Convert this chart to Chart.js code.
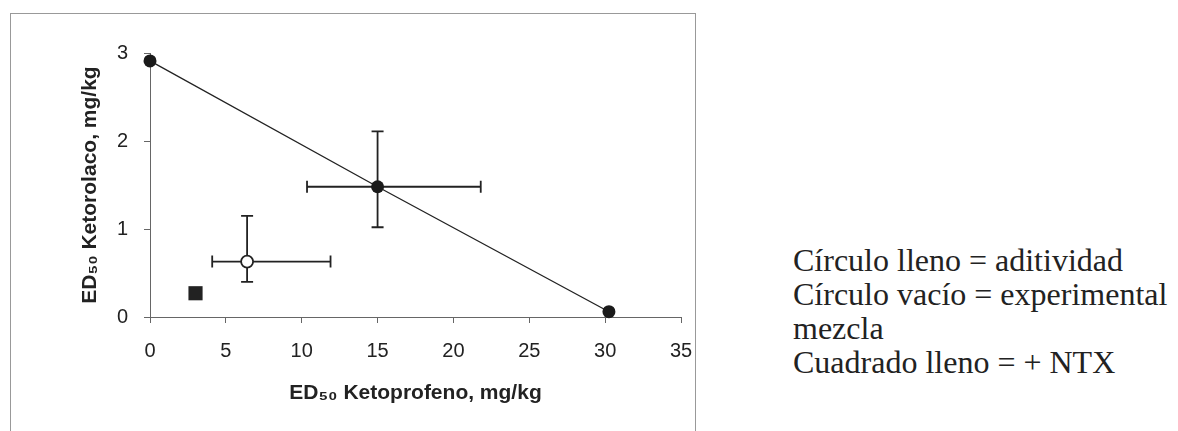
<!DOCTYPE html>
<html>
<head>
<meta charset="utf-8">
<script src="https://cdn.jsdelivr.net/npm/chart.js@4"></script>
<style>
  body { margin: 0; background: #fff; width: 1178px; height: 431px; overflow: hidden; position: relative; }
  .frame { position: absolute; left: 10px; top: 13px; width: 684px; height: 440px; border: 1px solid #999; border-bottom: none; }
  .wrap { position: absolute; left: 0; top: 0; width: 720px; height: 431px; }
  .notes { position: absolute; left: 793px; top: 243px; font-family: "Liberation Serif", "Times New Roman", serif; font-size: 32px; line-height: 34px; color: #222; }
</style>
</head>
<body>
<div class="frame"></div>
<div class="wrap"><canvas id="grafico"></canvas></div>
<div class="notes">
  Círculo lleno = aditividad<br>
  Círculo vacío = experimental<br>
  mezcla<br>
  Cuadrado lleno = + NTX
</div>
<script>
// aditividad (circulos llenos, linea)
const addX = [0, 15.0, 30.25];
const addY = [2.91, 1.48, 0.06];
const addXLow = [null, 10.35, null];
const addXHigh = [null, 21.8, null];
const addYLow = [null, 1.02, null];
const addYHigh = [null, 2.11, null];

// experimental mezcla (circulo vacio)
const expX = [6.4];
const expY = [0.63];
const expXLow = [4.1];
const expXHigh = [11.9];
const expYLow = [0.40];
const expYHigh = [1.15];

// + NTX (cuadrado lleno)
const ntxX = [3.0];
const ntxY = [0.27];

const xTicks = [0, 5, 10, 15, 20, 25, 30, 35];
const yTicks = [0, 1, 2, 3];

const toPoints = (xs, ys) => xs.map((x, i) => ({ x: x, y: ys[i] }));

// barras de error dibujadas con las escalas del grafico
const errorBars = {
  id: 'errorBars',
  beforeDatasetsDraw(chart) {
    const ctx = chart.ctx;
    const xs = chart.scales.x;
    const ys = chart.scales.y;
    const sets = [
      [addX, addY, addXLow, addXHigh, addYLow, addYHigh],
      [expX, expY, expXLow, expXHigh, expYLow, expYHigh]
    ];
    const cap = 6;
    ctx.save();
    ctx.strokeStyle = '#222';
    ctx.lineWidth = 1.8;
    sets.forEach(([px, py, xl, xh, yl, yh]) => {
      px.forEach((xv, i) => {
        const cx = xs.getPixelForValue(xv);
        const cy = ys.getPixelForValue(py[i]);
        if (xl[i] != null) {
          const a = xs.getPixelForValue(xl[i]);
          const b = xs.getPixelForValue(xh[i]);
          ctx.beginPath();
          ctx.moveTo(a, cy); ctx.lineTo(b, cy);
          ctx.moveTo(a, cy - cap); ctx.lineTo(a, cy + cap);
          ctx.moveTo(b, cy - cap); ctx.lineTo(b, cy + cap);
          ctx.stroke();
        }
        if (yl[i] != null) {
          const a = ys.getPixelForValue(yl[i]);
          const b = ys.getPixelForValue(yh[i]);
          ctx.beginPath();
          ctx.moveTo(cx, a); ctx.lineTo(cx, b);
          ctx.moveTo(cx - cap, a); ctx.lineTo(cx + cap, a);
          ctx.moveTo(cx - cap, b); ctx.lineTo(cx + cap, b);
          ctx.stroke();
        }
      });
    });
    ctx.restore();
  }
};

const ctx = document.getElementById('grafico').getContext('2d');
new Chart(ctx, {
  type: 'scatter',
  data: {
    datasets: [
      {
        label: 'Aditividad',
        data: toPoints(addX, addY),
        showLine: true,
        borderColor: '#222',
        borderWidth: 1.3,
        backgroundColor: '#1a1a1a',
        pointRadius: 6.5,
        pointBorderWidth: 0,
        clip: false
      },
      {
        label: 'Experimental mezcla',
        data: toPoints(expX, expY),
        backgroundColor: '#fff',
        borderColor: '#222',
        pointRadius: 6,
        pointBorderWidth: 1.8,
        clip: false
      },
      {
        label: '+ NTX',
        data: toPoints(ntxX, ntxY),
        pointStyle: 'rect',
        backgroundColor: '#222',
        borderColor: '#222',
        pointRadius: 10,
        pointBorderWidth: 0,
        clip: false
      }
    ]
  },
  options: {
    responsive: true,
    maintainAspectRatio: false,
    animation: false,
    layout: { padding: { top: 53, right: 39, bottom: 0, left: 0 } },
    plugins: {
      legend: { display: false },
      tooltip: { enabled: false }
    },
    scales: {
      x: {
        type: 'linear',
        min: 0,
        max: 35,
        afterFit(scale) { scale.height = 114; },
        afterBuildTicks(scale) { scale.ticks = xTicks.map(v => ({ value: v })); },
        grid: { drawOnChartArea: false, tickLength: 6, color: '#666' },
        border: { color: '#666', width: 1 },
        ticks: {
          padding: 16,
          color: '#222',
          font: { family: '"Liberation Sans", Arial, sans-serif', size: 20 }
        },
        title: {
          display: true,
          text: 'ED₅₀ Ketoprofeno, mg/kg',
          color: '#222',
          padding: { top: 0, bottom: 25 },
          font: { family: '"Liberation Sans", Arial, sans-serif', size: 21, weight: 'bold' }
        }
      },
      y: {
        type: 'linear',
        min: 0,
        max: 3,
        afterFit(scale) { scale.width = 150; },
        afterBuildTicks(scale) { scale.ticks = yTicks.map(v => ({ value: v })); },
        grid: { drawOnChartArea: false, tickLength: 6, color: '#666' },
        border: { color: '#666', width: 1 },
        ticks: {
          padding: 16,
          color: '#222',
          font: { family: '"Liberation Sans", Arial, sans-serif', size: 20 }
        },
        title: {
          display: true,
          text: 'ED₅₀ Ketorolaco, mg/kg',
          color: '#222',
          padding: { top: 78, bottom: 0 },
          font: { family: '"Liberation Sans", Arial, sans-serif', size: 21, weight: 'bold' }
        }
      }
    }
  },
  plugins: [errorBars]
});
</script>
</body>
</html>
